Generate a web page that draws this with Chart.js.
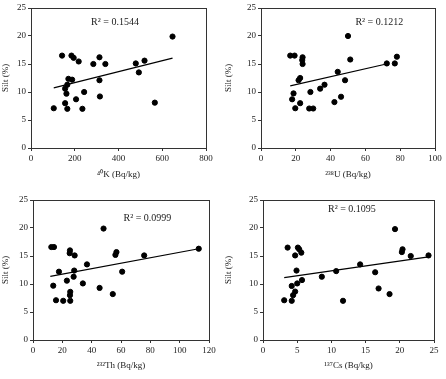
<!DOCTYPE html>
<html>
<head>
<meta charset="utf-8">
<script src="https://cdn.jsdelivr.net/npm/chart.js@4.4.1/dist/chart.umd.min.js"></script>
<style>
  body { margin: 0; background: #fff; }
  #wrap { position: relative; width: 446px; height: 379px; }
  .panel { position: absolute; }
</style>
</head>
<body>
<div id="wrap">
  <div class="panel" style="left:0;top:0;width:223px;height:190px"><canvas id="cK"></canvas></div>
  <div class="panel" style="left:223px;top:0;width:223px;height:190px"><canvas id="cU"></canvas></div>
  <div class="panel" style="left:0;top:190px;width:223px;height:189px"><canvas id="cTh"></canvas></div>
  <div class="panel" style="left:223px;top:190px;width:223px;height:189px"><canvas id="cCs"></canvas></div>
</div>
<script>
// Silt vs radionuclide activity

const kX = [104, 142, 185, 195, 171, 188, 166, 156, 162, 156, 166, 206, 218, 243, 235, 285, 313, 340, 313, 315, 479, 493, 519, 566, 647];
const kY = [7.1, 16.5, 16.5, 16.1, 12.35, 12.2, 11.3, 10.6, 9.7, 8.0, 7.0, 8.7, 15.45, 10.0, 7.0, 15.0, 16.2, 15.0, 12.1, 9.2, 15.1, 13.5, 15.6, 8.1, 19.9];
const kTrend = [[104, 10.75], [647, 16.05]];

const uX = [16.8, 19.3, 17.9, 18.7, 19.7, 21.6, 22.5, 22.5, 23.9, 23.7, 23.9, 27.7, 28.4, 30.0, 34.0, 36.5, 42.2, 44.1, 46.0, 48.3, 50.0, 51.3, 72.3, 76.9, 78.1];
const uY = [16.5, 16.5, 8.7, 9.75, 7.1, 12.1, 12.5, 8.0, 16.2, 15.7, 15.0, 7.05, 10.0, 7.05, 10.6, 11.3, 8.2, 13.6, 9.15, 12.1, 20.0, 15.8, 15.1, 15.1, 16.3];
const uTrend = [[16.8, 11.1], [72, 15.0]];

const thX = [12.5, 14.3, 13.8, 15.7, 17.7, 20.6, 23.1, 25.0, 25.2, 25.4, 25.2, 25.4, 28.4, 28.1, 27.7, 34.0, 36.8, 45.4, 48.1, 54.4, 56.2, 56.9, 60.8, 75.8, 113.0];
const thY = [16.6, 16.6, 9.7, 7.1, 12.2, 7.0, 10.6, 15.5, 16.0, 8.6, 8.0, 7.0, 15.1, 12.4, 11.3, 10.1, 13.5, 9.3, 19.9, 8.2, 15.2, 15.7, 12.2, 15.1, 16.3];
const thTrend = [[11.8, 11.35], [113, 16.3]];

const csX = [3.1, 3.6, 4.2, 4.2, 4.4, 4.7, 4.7, 4.9, 5.0, 5.1, 5.3, 5.6, 5.7, 8.6, 10.7, 11.7, 14.2, 16.4, 16.9, 18.5, 19.3, 20.3, 20.4, 21.6, 24.2];
const csY = [7.1, 16.5, 9.65, 7.0, 8.0, 8.65, 15.1, 12.4, 10.1, 16.5, 16.2, 15.6, 10.7, 11.3, 12.3, 7.0, 13.5, 12.1, 9.2, 8.2, 19.8, 15.7, 16.2, 15.0, 15.1];
const csTrend = [[3.1, 11.15], [24.2, 14.85]];

const r2Labels = ['R\u00b2 = 0.1544', 'R\u00b2 = 0.1212', 'R\u00b2 = 0.0999', 'R\u00b2 = 0.1095'];
const xTitles = ['\u2074\u2070K (Bq/kg)', '\u00b2\u00b3\u2078U (Bq/kg)', '\u00b2\u00b3\u00b2Th (Bq/kg)', '\u00b9\u00b3\u2077Cs (Bq/kg)'];
const yTitle = 'Silt (%)';
const xMax = [800, 100, 120, 25];
const xStep = [200, 20, 20, 5];

const FONT = '"Liberation Serif", "Times New Roman", serif';
const INK = '#222';

// frame round the plot area plus the R² text
const framePlugin = {
  id: 'frame',
  afterDraw(chart, args, opts) {
    const { ctx, chartArea: a } = chart;
    ctx.save();
    ctx.strokeStyle = '#333';
    ctx.lineWidth = 1;
    ctx.strokeRect(Math.round(a.left) + 0.5, Math.round(a.top) + 0.5, Math.round(a.right - a.left), Math.round(a.bottom - a.top));
    ctx.fillStyle = INK;
    ctx.font = '10px ' + FONT;
    ctx.textAlign = 'center';
    ctx.textBaseline = 'middle';
    ctx.fillText(opts.text, a.left + (a.right - a.left) * opts.fx, a.top + (a.bottom - a.top) * opts.fy);
    ctx.restore();
  }
};

const makeChart = (id, xs, ys, trend, i, box) => {
  const points = xs.map((x, k) => ({ x: x, y: ys[k] }));
  const line = trend.map(p => ({ x: p[0], y: p[1] }));
  return new Chart(document.getElementById(id), {
    type: 'scatter',
    data: {
      datasets: [
        { data: points, backgroundColor: '#000', borderColor: '#000', pointRadius: 2.6, pointHoverRadius: 2.6 },
        { data: line, showLine: true, borderColor: '#000', borderWidth: 1.2, pointRadius: 0, fill: false }
      ]
    },
    options: {
      responsive: true,
      maintainAspectRatio: false,
      animation: false,
      events: [],
      layout: { padding: { top: box.top, right: box.right, left: 0, bottom: 0 } },
      plugins: {
        legend: { display: false },
        tooltip: { enabled: false },
        frame: { text: r2Labels[i], fx: box.fx, fy: box.fy }
      },
      scales: {
        x: {
          type: 'linear',
          min: 0,
          max: xMax[i],
          ticks: { stepSize: xStep[i], color: INK, font: { family: FONT, size: 9 }, padding: 2, maxRotation: 0 },
          grid: { drawOnChartArea: false, drawTicks: true, tickLength: 3, color: '#333' },
          border: { display: false },
          title: { display: true, text: xTitles[i], color: INK, font: { family: FONT, size: 9 }, padding: { top: 0, bottom: box.xTitleBottom } },
          afterFit: (scale) => { scale.height = box.xHeight; }
        },
        y: {
          min: 0,
          max: 25,
          ticks: { stepSize: 5, color: INK, font: { family: FONT, size: 9 }, padding: 2 },
          grid: { drawOnChartArea: false, drawTicks: true, tickLength: 3, color: '#333' },
          border: { display: false },
          title: { display: true, text: yTitle, color: INK, font: { family: FONT, size: 9 }, padding: { top: 0, bottom: 0 } },
          afterFit: (scale) => { scale.width = box.left; }
        }
      }
    },
    plugins: [framePlugin]
  });
};

makeChart('cK', kX, kY, kTrend, 0, { left: 31, right: 17, top: 8, xHeight: 42, xTitleBottom: 10, fx: 0.48, fy: 0.1 });
makeChart('cU', uX, uY, uTrend, 1, { left: 38, right: 11, top: 8, xHeight: 42, xTitleBottom: 10, fx: 0.68, fy: 0.1 });
makeChart('cTh', thX, thY, thTrend, 2, { left: 33, right: 14, top: 10, xHeight: 39, xTitleBottom: 8, fx: 0.65, fy: 0.13 });
makeChart('cCs', csX, csY, csTrend, 3, { left: 40, right: 12, top: 10, xHeight: 39, xTitleBottom: 8, fx: 0.52, fy: 0.07 });
</script>
</body>
</html>
